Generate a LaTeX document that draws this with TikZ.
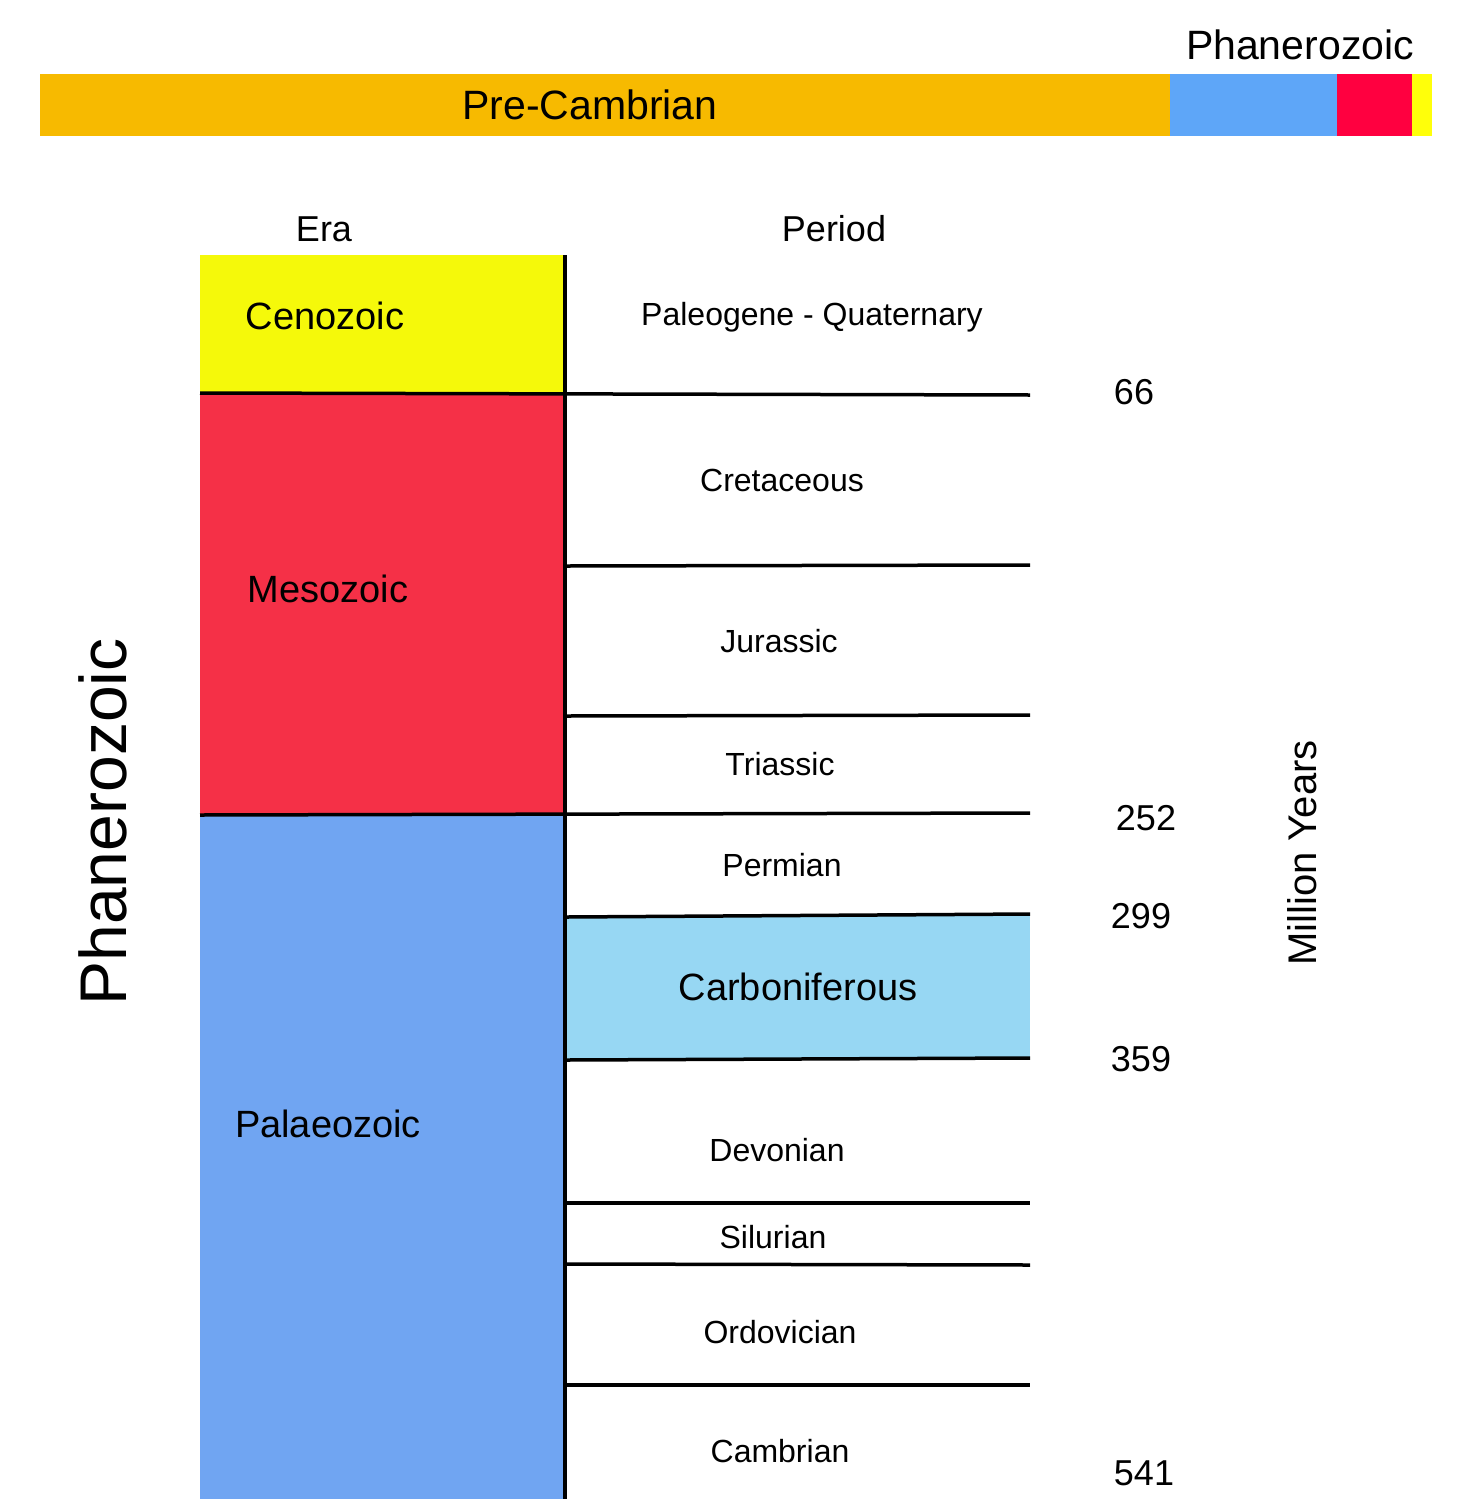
\documentclass[tikz,border=0pt]{standalone}
\usepackage{fontspec}
\setmainfont{Liberation Sans}
\definecolor{precamb}{HTML}{F7BA00}
\definecolor{pzbar}{HTML}{5EA6F8}
\definecolor{mzbar}{HTML}{FF0040}
\definecolor{czbar}{HTML}{FFFF0A}
\definecolor{ceno}{HTML}{F5F90A}
\definecolor{meso}{HTML}{F53047}
\definecolor{palaeo}{HTML}{70A5F2}
\definecolor{carbon}{HTML}{97D7F3}
\tikzset{
  lbl/.style={inner sep=0pt, anchor=base, text=black},
  bound/.style={draw=black, line width=3.5pt},
}
\newcommand{\fsz}[1]{\fontsize{#1}{#1}\selectfont}
\begin{document}
\begin{tikzpicture}[x=1pt,y=-1pt]
\useasboundingbox (0,0) rectangle (1472,1499);
\fill[white] (0,0) rectangle (1472,1499);
% top bar
\fill[precamb] (40,74) rectangle (1170,136);
\fill[pzbar] (1170,74) rectangle (1337,136);
\fill[mzbar] (1337,74) rectangle (1412,136);
\fill[czbar] (1412,74) rectangle (1432,136);
\node[lbl, font=\fsz{41}] (precambrian) at (590,119) {Pre-Cambrian};
\node[lbl, font=\fsz{41}] (phantop) at (1300,59) {Phanerozoic};
% headers
\node[lbl, font=\fsz{36}] (era) at (324,241) {Era};
\node[lbl, font=\fsz{36}] (period) at (834,241) {Period};
% era boxes
\fill[ceno] (200,255) rectangle (565,393);
\fill[meso] (200,393) rectangle (565,815);
\fill[palaeo] (200,815) rectangle (565,1499);
\fill[carbon] (567,916) rectangle (1030,1059);
% boundaries
\draw[bound] (565,255) -- (565,1499);
\draw[bound] (200,393) -- (1030,395);
\draw[bound] (567,566) -- (1030,565);
\draw[bound] (567,716) -- (1030,715);
\draw[bound] (200,815) -- (1030,813);
\draw[bound] (567,917) -- (1030,914);
\draw[bound] (567,1060) -- (1030,1058);
\draw[bound] (567,1203) -- (1030,1203);
\draw[bound] (567,1264) -- (1030,1265);
\draw[bound] (567,1385) -- (1030,1385);
% era labels
\node[lbl, font=\fsz{38}] (cenozoic) at (325,329) {Cenozoic};
\node[lbl, font=\fsz{38}] (mesozoic) at (328,602) {Mesozoic};
\node[lbl, font=\fsz{38}] (palaeozoic) at (328,1137) {Palaeozoic};
% period labels
\node[lbl, font=\fsz{32}] (paleogene) at (812,325) {Paleogene - Quaternary};
\node[lbl, font=\fsz{32}] (cretaceous) at (782,491) {Cretaceous};
\node[lbl, font=\fsz{32}] (jurassic) at (779,652) {Jurassic};
\node[lbl, font=\fsz{32}] (triassic) at (780,775) {Triassic};
\node[lbl, font=\fsz{32}] (permian) at (782,876) {Permian};
\node[lbl, font=\fsz{38}] (carboniferous) at (798,1000) {Carboniferous};
\node[lbl, font=\fsz{32}] (devonian) at (777,1161) {Devonian};
\node[lbl, font=\fsz{32}] (silurian) at (773,1248) {Silurian};
\node[lbl, font=\fsz{32}] (ordovician) at (780,1343) {Ordovician};
\node[lbl, font=\fsz{32}] (cambrian) at (780,1462) {Cambrian};
% ages
\node[lbl, font=\fsz{36}] (m66) at (1134,404) {66};
\node[lbl, font=\fsz{36}] (m252) at (1146,830) {252};
\node[lbl, font=\fsz{36}] (m299) at (1141,928) {299};
\node[lbl, font=\fsz{36}] (m359) at (1141,1071) {359};
\node[lbl, font=\fsz{36}] (m541) at (1144,1485) {541};
% rotated labels
\node[lbl, font=\fsz{40}, rotate=90] (myears) at (1316,853) {Million Years};
\node[lbl, font=\fsz{66}, rotate=90] (phanside) at (126,822) {Phanerozoic};
\end{tikzpicture}
\end{document}
